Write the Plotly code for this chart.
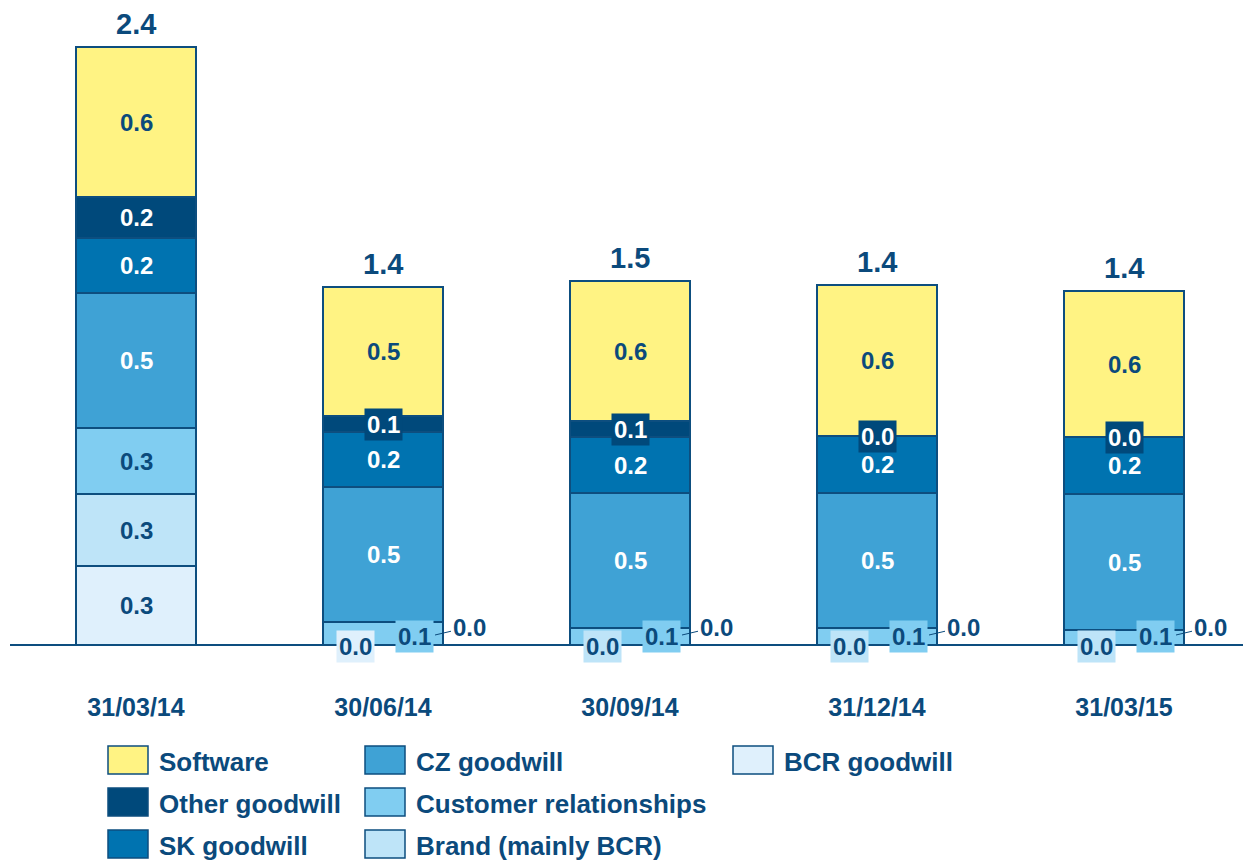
import plotly.graph_objects as go

# ---------------- data ----------------
categories = ["31/03/14", "30/06/14", "30/09/14", "31/12/14", "31/03/15"]

bcr_goodwill = [0.317, 0.0, 0.0, 0.0, 0.0]
brand = [0.289, 0.0, 0.0, 0.0, 0.0]
customer_rel = [0.265, 0.092, 0.068, 0.068, 0.060]
cz_goodwill = [0.542, 0.542, 0.542, 0.542, 0.546]
sk_goodwill = [0.221, 0.221, 0.225, 0.229, 0.229]
other_goodwill = [0.165, 0.064, 0.064, 0.0, 0.0]
software = [0.602, 0.518, 0.562, 0.606, 0.586]

# stacking order bottom -> top
series_names = ["BCR goodwill", "Brand (mainly BCR)", "Customer relationships",
                "CZ goodwill", "SK goodwill", "Other goodwill", "Software"]
series_values = [bcr_goodwill, brand, customer_rel, cz_goodwill, sk_goodwill,
                 other_goodwill, software]
series_colors = ["#DFF0FC", "#BEE4F8", "#80CDF1", "#3FA2D5", "#0073B0",
                 "#00497B", "#FFF383"]
label_colors = ["#0B4A7C", "#0B4A7C", "#0B4A7C", "white", "white", "white", "#0B4A7C"]

# legend layout (columns, top -> bottom)
legend_columns = [["Software", "Other goodwill", "SK goodwill"],
                  ["CZ goodwill", "Customer relationships", "Brand (mainly BCR)"],
                  ["BCR goodwill"]]

DARK = "#0B4A7C"
OUTLINE = "#0D4E7F"
FONT = "Liberation Sans, Arial, sans-serif"

W, H = 1243, 861
PLOT_H = 690          # plot area height in px (top margin 0)
PX_PER_UNIT = 249.0
BASE_PX = 645

fig = go.Figure()
for name, vals, col in zip(series_names, series_values, series_colors):
    fig.add_trace(go.Bar(
        x=categories, y=vals, name=name,
        marker=dict(color=col, line=dict(color=OUTLINE, width=1.5)),
        showlegend=False, hoverinfo="x+y+name",
    ))

annotations = []
n = len(categories)
for i, cat in enumerate(categories):
    cum = 0.0
    for k, (name, vals) in enumerate(zip(series_names, series_values)):
        v = vals[i]
        mid = cum + v / 2
        cum += v
        txt = f"<b>{v:.1f}</b>"
        if i == 0:
            annotations.append(dict(x=cat, y=mid, text=txt, showarrow=False,
                                    font=dict(size=24, color=label_colors[k], family=FONT)))
            continue
        if name in ("CZ goodwill", "SK goodwill", "Software"):
            annotations.append(dict(x=cat, y=mid, text=txt, showarrow=False,
                                    font=dict(size=24, color=label_colors[k], family=FONT)))
        elif name == "Other goodwill":
            annotations.append(dict(x=cat, y=mid, text=txt, showarrow=False,
                                    bgcolor=series_colors[k], borderpad=2,
                                    font=dict(size=24, color="white", family=FONT)))
        elif name == "Customer relationships":
            annotations.append(dict(x=cat, y=0, text=txt, showarrow=False,
                                    xshift=31, yshift=9,
                                    bgcolor=series_colors[k], borderpad=2,
                                    font=dict(size=24, color=DARK, family=FONT)))
    # the two zero-value labels at the bottom
    left_series = "BCR goodwill" if i == 1 else "Brand (mainly BCR)"
    lead_series = "Brand (mainly BCR)" if i == 1 else "BCR goodwill"
    if i > 0:
        kl = series_names.index(left_series)
        kd = series_names.index(lead_series)
        annotations.append(dict(x=cat, y=0, text=f"<b>{series_values[kl][i]:.1f}</b>",
                                showarrow=False, xshift=-28, yshift=-1,
                                bgcolor=series_colors[kl], borderpad=2,
                                font=dict(size=24, color=DARK, family=FONT)))
        annotations.append(dict(x=cat, y=0, text=f"<b>{series_values[kd][i]:.1f}</b>",
                                showarrow=True, arrowhead=0, arrowwidth=1,
                                arrowcolor=DARK, xshift=52, yshift=10,
                                ax=34, ay=-8, standoff=0,
                                font=dict(size=24, color=DARK, family=FONT)))

# totals
totals = [sum(vals[i] for vals in series_values) for i in range(n)]
for cat, t in zip(categories, totals):
    annotations.append(dict(x=cat, y=t, text=f"<b>{t:.1f}</b>", showarrow=False,
                            yanchor="bottom", yshift=5,
                            font=dict(size=29, color=DARK, family=FONT)))

# manual legend
col_box_x = [108, 365, 733]
row_center_y = [760, 802, 844]
shapes = []
color_of = dict(zip(series_names, series_colors))
for c, col_items in enumerate(legend_columns):
    for r, name in enumerate(col_items):
        x0 = col_box_x[c]
        yc = row_center_y[r]
        shapes.append(dict(type="rect", xref="paper", yref="paper",
                           x0=x0 / W, x1=(x0 + 40) / W,
                           y0=1 - (yc + 14) / PLOT_H, y1=1 - (yc - 14) / PLOT_H,
                           fillcolor=color_of[name], line=dict(color=OUTLINE, width=1.5)))
        annotations.append(dict(xref="paper", yref="paper", x=(x0 + 49) / W,
                                y=1 - (yc + 2) / PLOT_H, xanchor="left", yanchor="middle",
                                text=f"<b>{name}</b>", showarrow=False,
                                font=dict(size=26, color=DARK, family=FONT)))

# baseline
shapes.append(dict(type="line", xref="paper", yref="y", x0=10 / W, x1=1, y0=0, y1=0,
                   line=dict(color=OUTLINE, width=2)))

x0_idx = -136 / 247
x1_idx = (W - 136) / 247
fig.update_layout(
    width=W, height=H,
    margin=dict(l=0, r=0, t=0, b=H - PLOT_H),
    barmode="stack", bargap=1 - 120 / 247,
    plot_bgcolor="white", paper_bgcolor="white",
    xaxis=dict(type="category", range=[x0_idx, x1_idx], showgrid=False, zeroline=False,
               showline=False, ticks="",
               tickfont=dict(size=25, color=DARK, family=FONT),
               tickvals=categories, ticktext=[f"<b>{c}</b>" for c in categories]),
    yaxis=dict(range=[-(PLOT_H - BASE_PX) / PX_PER_UNIT, BASE_PX / PX_PER_UNIT],
               visible=False, showgrid=False, zeroline=False),
    annotations=annotations, shapes=shapes,
    font=dict(family=FONT, color=DARK),
)

fig.write_html("out.html", config={"displayModeBar": False},
               post_script="document.body.style.margin='0';document.body.style.overflow='hidden';")
